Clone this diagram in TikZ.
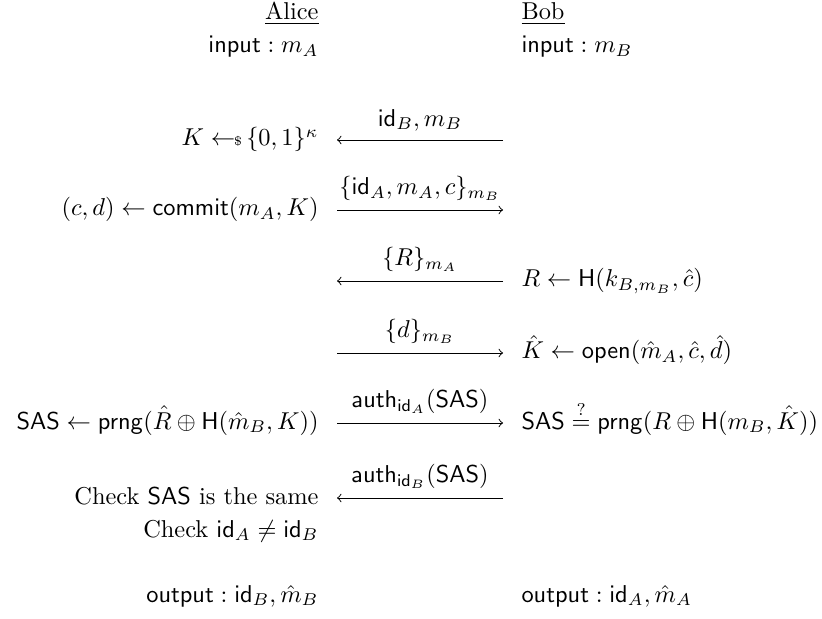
\documentclass[tikz,border=0pt]{standalone}
\usepackage{amsmath,amssymb}
\begin{document}
\begin{tikzpicture}[x=0.41pt,y=-0.41pt,
  lt/.style={anchor=base east, inner sep=0pt},
  rt/.style={anchor=base west, inner sep=0pt},
  msg/.style={->, line width=0.4pt},
  lbl/.style={anchor=south, inner sep=0pt, yshift=3.5pt}]
\useasboundingbox (0,0) rectangle (822,619);
% headers
\node[lt] (alice) at (319,20) {\underline{Alice}};
\node[rt] (bob) at (521,20) {\underline{Bob}};
\node[lt] (inA) at (319,53) {$\mathsf{input}:m_A$};
\node[rt] (inB) at (521,53) {$\mathsf{input}:m_B$};
% row 1
\node[lt] (l1) at (319,146) {$K \leftarrow\!\!\mbox{\tiny\$}\,\{0,1\}^\kappa$};
\coordinate (a1l) at (337,140); \coordinate (a1r) at (503,140);
\draw[msg] (a1r) -- (a1l) node[midway,lbl] (m1) {$\mathsf{id}_B, m_B$};
% row 2
\node[lt] (l2) at (319,216) {$(c,d)\leftarrow\mathsf{commit}(m_A,K)$};
\coordinate (a2l) at (337,210); \coordinate (a2r) at (503,210);
\draw[msg] (a2l) -- (a2r) node[midway,lbl] (m2) {$\{\mathsf{id}_A, m_A, c\}_{m_B}$};
% row 3
\coordinate (a3l) at (337,281); \coordinate (a3r) at (503,281);
\draw[msg] (a3r) -- (a3l) node[midway,lbl] (m3) {$\{R\}_{m_A}$};
\node[rt] (r3) at (521,287) {$R\leftarrow\mathsf{H}(k_{B,m_B},\hat{c})$};
% row 4
\coordinate (a4l) at (337,353); \coordinate (a4r) at (503,353);
\draw[msg] (a4l) -- (a4r) node[midway,lbl] (m4) {$\{d\}_{m_B}$};
\node[rt] (r4) at (521,359) {$\hat{K}\leftarrow\mathsf{open}(\hat{m}_A,\hat{c},\hat{d})$};
% row 5
\node[lt] (l5) at (319,429) {$\mathsf{SAS}\leftarrow\mathsf{prng}(\hat{R}\oplus\mathsf{H}(\hat{m}_B,K))$};
\coordinate (a5l) at (337,423); \coordinate (a5r) at (503,423);
\draw[msg] (a5l) -- (a5r) node[midway,lbl] (m5) {$\mathsf{auth}_{\mathsf{id}_A}(\mathsf{SAS})$};
\node[rt] (r5) at (521,429) {$\mathsf{SAS}\stackrel{?}{=}\mathsf{prng}(R\oplus\mathsf{H}(m_B,\hat{K}))$};
% row 6
\node[lt] (l6) at (319,504) {Check $\mathsf{SAS}$ is the same};
\node[lt] (l6b) at (319,537) {Check $\mathsf{id}_A\neq\mathsf{id}_B$};
\coordinate (a6l) at (337,498); \coordinate (a6r) at (503,498);
\draw[msg] (a6r) -- (a6l) node[midway,lbl] (m6) {$\mathsf{auth}_{\mathsf{id}_B}(\mathsf{SAS})$};
% outputs
\node[lt] (outA) at (319,602) {$\mathsf{output}:\mathsf{id}_B,\hat{m}_B$};
\node[rt] (outB) at (521,602) {$\mathsf{output}:\mathsf{id}_A,\hat{m}_A$};
\end{tikzpicture}
\end{document}
